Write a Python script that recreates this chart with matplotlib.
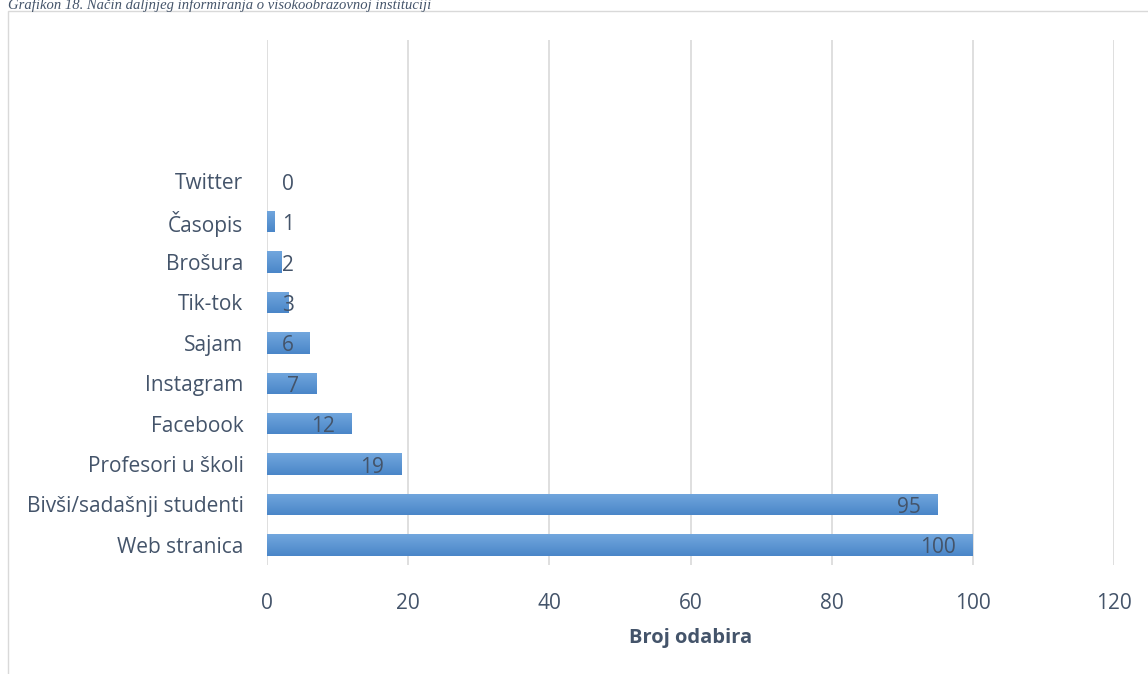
import matplotlib
matplotlib.use("Agg")
import matplotlib.pyplot as plt
import numpy as np
from matplotlib.patches import Rectangle
from matplotlib.colors import LinearSegmentedColormap
from matplotlib.transforms import offset_copy

categories = ["Web stranica", "Bivši/sadašnji studenti", "Profesori u školi", "Facebook",
              "Instagram", "Sajam", "Tik-tok", "Brošura", "Časopis", "Twitter"]
values = [100, 95, 19, 12, 7, 6, 3, 2, 1, 0]
x_ticks = [0, 20, 40, 60, 80, 100, 120]
x_title = "Broj odabira"
caption = "Grafikon 18. Način daljnjeg informiranja o visokoobrazovnoj instituciji"

W, H = 1148, 674
fig = plt.figure(figsize=(W / 100, H / 100), dpi=100)
plt.rcParams['font.family'] = ['Open Sans', 'DejaVu Sans']
txt_col = '#44546A'
fs = 15

# outer frame (clipped at right/bottom like the reference)
fig.patches.append(Rectangle((8 / W, -0.1), 1.2, 1 - 11 / H + 0.1, transform=fig.transFigure,
                             fill=False, edgecolor='#D9D9D9', linewidth=1.0))
fig.text(8 / W, 1 - 9 / H, caption, family='Liberation Serif', style='italic',
         fontsize=10.5, color='#44546A', ha='left', va='baseline')

ax = fig.add_axes([267 / W, 1 - 565 / H, (1114 - 267) / W, (565 - 40) / H])
ypos = np.arange(len(categories))
bars = ax.barh(ypos, values, height=0.53, color='#5B9BD5', zorder=2)

cmap = LinearSegmentedColormap.from_list('g', ['#72A7DE', '#4A86C8'])
grad = np.linspace(0, 1, 64).reshape(-1, 1)
for b in bars:
    if b.get_width() <= 0:
        continue
    x0, y0 = b.get_x(), b.get_y()
    im = ax.imshow(grad, cmap=cmap, aspect='auto', origin='upper',
                   extent=[x0, x0 + b.get_width(), y0, y0 + b.get_height()], zorder=3)
    im.set_clip_path(b)

ax.set_xlim(0, 120)
ax.set_ylim(-0.5, 12.5)
ax.set_xticks(x_ticks)
ax.set_xticklabels([str(t) for t in x_ticks])
ax.set_yticks(ypos)
ax.set_yticklabels(categories)
ax.tick_params(axis='both', length=0, labelsize=fs, colors=txt_col)
ax.tick_params(axis='x', pad=20)
ax.tick_params(axis='y', pad=17)
ax.grid(axis='x', color='#D9D9D9', linewidth=1.2, zorder=0)
ax.set_axisbelow(True)
for s in ax.spines.values():
    s.set_visible(False)
ax.set_xlabel(x_title, fontsize=14.5, fontweight='bold', color=txt_col, labelpad=10)

fig.canvas.draw()
renderer = fig.canvas.get_renderer()
ax_x0 = ax.transData.transform((0, 0))[0]
for v, y in zip(values, ypos):
    tr = offset_copy(ax.transData, fig=fig, x=-17, y=-3, units='dots')
    t = ax.text(v, y, str(v), ha='right', va='center', fontsize=fs, color=txt_col,
                transform=tr, zorder=4)
    bb = t.get_window_extent(renderer)
    if bb.x0 < ax_x0 + 15:
        t.remove()
        tr2 = offset_copy(ax.transData, fig=fig, x=15, y=-3, units='dots')
        ax.text(0, y, str(v), ha='left', va='center', fontsize=fs, color=txt_col,
                transform=tr2, zorder=4)

fig.savefig("out.png", dpi=100)
